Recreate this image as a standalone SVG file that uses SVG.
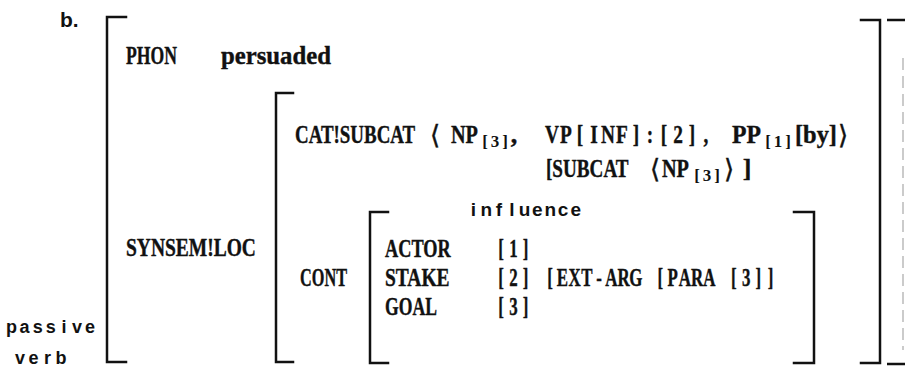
<svg xmlns="http://www.w3.org/2000/svg" width="905" height="369" viewBox="0 0 905 369">
  <style>
    .br { fill: none; stroke: #111; stroke-width: 2.5; stroke-linecap: square; }
    /* words: bold serif, condensed by each text's own transform */
    .w { font-family: "Liberation Serif", "DejaVu Serif", serif; font-weight: bold; font-size: 26px; fill: #111; stroke: #111; stroke-width: 0.4; }
    /* fixed-pitch runs: glyphs centred in cells, condensed by the text transform */
    .t { font-family: "Liberation Serif", "DejaVu Serif", serif; font-weight: bold; font-size: 26px; fill: #111; stroke: #111; stroke-width: 0.4; text-anchor: middle; }
    .sub { font-family: "Liberation Serif", "DejaVu Serif", serif; font-weight: bold; font-size: 17px; fill: #111; text-anchor: middle; }
    .s { font-family: "Liberation Sans", Arial, sans-serif; font-weight: bold; fill: #111; text-anchor: middle; }
    .ang { font-family: "DejaVu Sans", sans-serif; font-size: 26px; fill: #111; stroke: #111; stroke-width: 0.4; text-anchor: middle; }
  </style>
  <rect width="905" height="369" fill="#fff"/>

  <!-- example label -->
  <g id="label-b">
    <text class="s" x="60" y="27" font-size="21" style="text-anchor:start">b.</text>
  </g>

  <!-- sign type label -->
  <g id="label-type">
    <text class="s" x="11.6 24.6 37.7 50.8 63.9 77 90.1" y="333" font-size="18">passive</text>
    <text class="s" x="19.9 33.6 47.4 61.1" y="364" font-size="18">verb</text>
  </g>

  <!-- brackets -->
  <g id="brackets">
    <path class="br" d="M126,17 H107 V362 H126"/>
    <path class="br" d="M861,20 H880 V363 H861"/>
    <path d="M887,20 H905 M887,364 H905" fill="none" stroke="#111" stroke-width="2.5"/>
    <line x1="903" y1="58" x2="903" y2="350" stroke="#bbb" stroke-width="1.5" stroke-dasharray="12 6"/>
    <path class="br" d="M293,93 H276 V362 H293"/>
    <path class="br" d="M388,212 H370 V363 H388"/>
    <path class="br" d="M794,212 H814 V363 H794"/>
  </g>

  <!-- PHON feature -->
  <g id="phon">
    <text class="w" transform="translate(126 64) scale(0.679 1)">PHON</text>
    <text class="w" transform="translate(221 64) scale(0.952 1)">persuaded</text>
  </g>

  <!-- SYNSEM|LOC feature -->
  <g id="synsem">
    <text class="w" transform="translate(126 256) scale(0.75 1)">SYNSEM!LOC</text>
  </g>

  <!-- CAT|SUBCAT value -->
  <g id="cat">
    <text class="w" transform="translate(295 143) scale(0.728 1)">CAT!SUBCAT</text>
    <text class="ang" x="435" y="144">⟨</text>
    <text class="w" transform="translate(451 143) scale(0.779 1)">NP</text>
    <text class="sub" x="485 495 505" y="147">[3]</text>
    <text class="t" x="514" y="143">,</text>
    <text class="t" transform="translate(545 143) scale(0.743 1)" x="9.42 28.27 47.12 65.96 84.81 103.65 122.5 141.35 160.19 179.04 197.88 216.73">VP[INF]:[2],</text>
    <text class="w" transform="translate(732 143) scale(0.913 1)">PP</text>
    <text class="sub" x="768 778 788" y="147">[1]</text>
    <text class="w" transform="translate(795 143) scale(0.938 1)">[by]</text>
    <text class="ang" x="843" y="144">⟩</text>

    <text class="w" transform="translate(546 177) scale(0.736 1)">[SUBCAT</text>
    <text class="ang" x="655" y="178">⟨</text>
    <text class="w" transform="translate(662 177) scale(0.779 1)">NP</text>
    <text class="sub" x="697 707 717" y="181">[3]</text>
    <text class="ang" x="729" y="178">⟩</text>
    <text class="t" x="747" y="177">]</text>
  </g>

  <!-- CONT value -->
  <g id="cont">
    <text class="w" transform="translate(300 286) scale(0.626 1)">CONT</text>
    <text class="s" x="473.4 486.2 499 511.8 524.6 537.4 550.2 563 575.8" y="216" font-size="19">influence</text>
    <text class="w" transform="translate(385 257) scale(0.703 1)">ACTOR</text>
    <text class="t" transform="translate(495 257) scale(0.65 1)" x="9.42 28.27 47.12">[1]</text>
    <text class="w" transform="translate(385 286) scale(0.749 1)">STAKE</text>
    <text class="t" transform="translate(495 286) scale(0.65 1)" x="9.42 28.27 47.12 65.96 84.81 103.65 122.5 141.35 160.19 179.04 197.88 216.73 235.58 254.42 273.27 292.12 310.96 329.81 348.65 367.5 386.35 405.19 424.04">[2] [EXT-ARG [PARA [3]]</text>
    <text class="w" transform="translate(385 315) scale(0.679 1)">GOAL</text>
    <text class="t" transform="translate(495 315) scale(0.65 1)" x="9.42 28.27 47.12">[3]</text>
  </g>
</svg>
